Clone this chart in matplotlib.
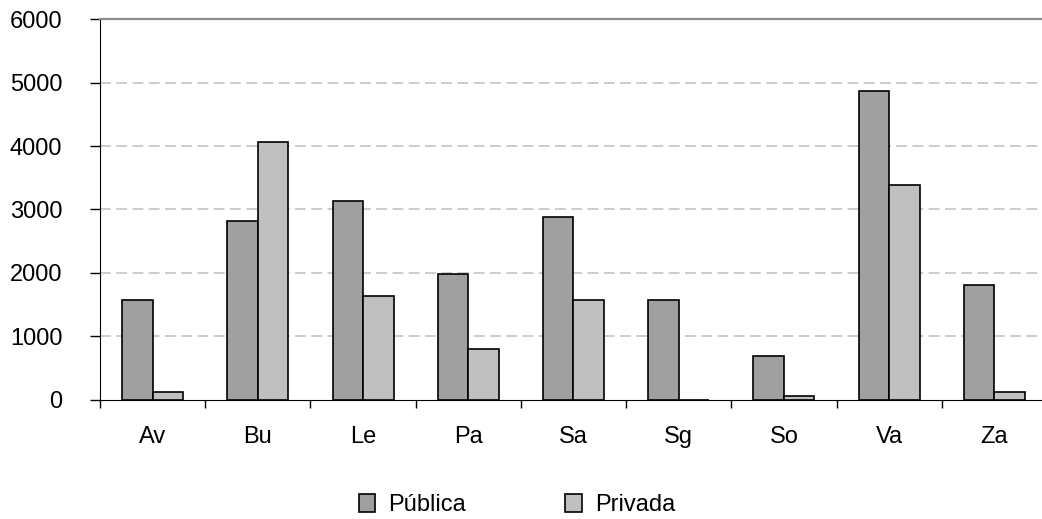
import matplotlib
matplotlib.use('Agg')
import matplotlib.pyplot as plt
import numpy as np

provinces = ['Av', 'Bu', 'Le', 'Pa', 'Sa', 'Sg', 'So', 'Va', 'Za']
publica = [1565, 2820, 3135, 1985, 2880, 1565, 690, 4875, 1810]
privada = [120, 4060, 1630, 790, 1570, 0, 60, 3390, 120]
y_ticks = [0, 1000, 2000, 3000, 4000, 5000, 6000]

plt.rcParams['font.family'] = ['Liberation Sans', 'DejaVu Sans']
FS = 17

fig = plt.figure(figsize=(10.42, 5.19), dpi=100)
ax = fig.add_axes([100 / 1042, 1 - 399.5 / 519, 947 / 1042, 380.2 / 519])

x = np.arange(len(provinces))
w = 0.29
b1 = ax.bar(x - w / 2, publica, w, color='#a0a0a0', edgecolor='black', linewidth=1.2, label='Pública', zorder=3)
b2 = ax.bar(x + w / 2, privada, w, color='#c0c0c0', edgecolor='black', linewidth=1.2, label='Privada', zorder=3)

ax.set_xlim(-0.5, len(provinces) - 0.5)
ax.set_ylim(0, 6000)

ax.set_yticks(y_ticks)
ax.set_yticklabels([str(v) for v in y_ticks], fontsize=FS)
ax.tick_params(axis='y', direction='out', length=7, width=1, pad=20, color='black')

ax.set_xticks(x)
ax.set_xticklabels(provinces, fontsize=FS)
ax.tick_params(axis='x', which='major', length=0, pad=19)
ax.set_xticks(np.arange(len(provinces) + 1) - 0.5, minor=True)
ax.tick_params(axis='x', which='minor', direction='out', length=5.5, width=1, color='black')

for v in y_ticks[1:-1]:
    ax.axhline(v, color='#c8c8c8', linewidth=1.3, dashes=(6, 3), zorder=1)

ax.spines['right'].set_visible(False)
ax.spines['top'].set_color('#8c8c8c')
ax.spines['top'].set_linewidth(1.6)
ax.spines['left'].set_color('black')
ax.spines['bottom'].set_color('black')

fig.legend(handles=[b1, b2], loc='center', bbox_to_anchor=(517 / 1042, 1 - 505 / 519),
           ncol=2, frameon=False, fontsize=FS, handlelength=0.7, handleheight=0.8,
           handletextpad=0.55, columnspacing=4.2, borderpad=0)

fig.savefig('out.png', dpi=100)
